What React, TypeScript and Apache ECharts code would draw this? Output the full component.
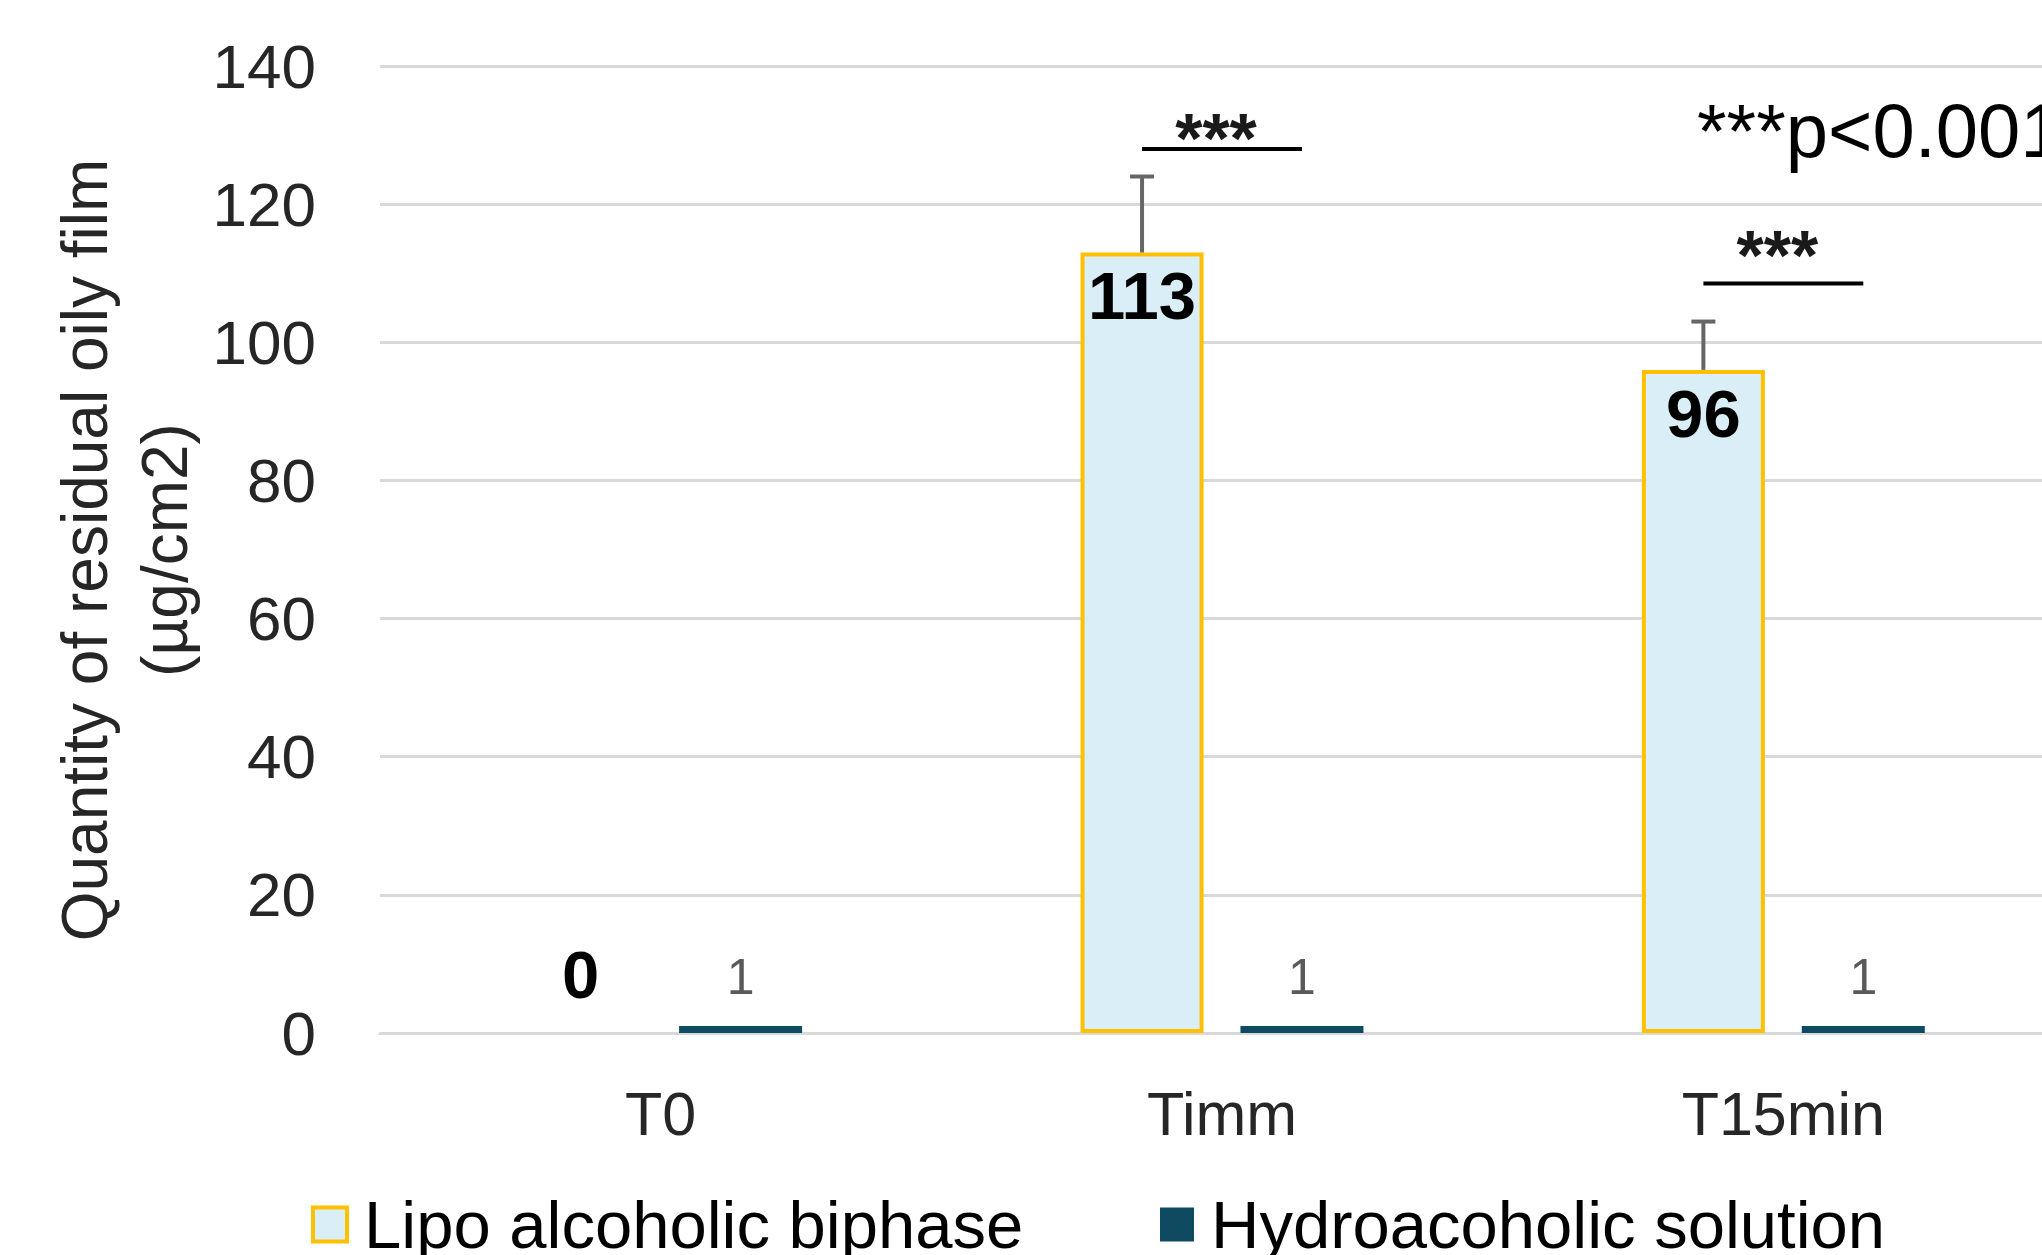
import React, { useEffect, useRef } from "react";
import * as echarts from "echarts";

const categories = ["T0", "Timm", "T15min"];
const lipoValues = [0, 113, 96];
const hydroValues = [1, 1, 1];
const lipoErrors = [0, 11, 7];
const sigLineValues = [null, 128, 108.5];
const sigStarValues = [null, 129.5, 112.5];
const yMin = 0;
const yMax = 140;
const yInterval = 20;

const FONT = "'Liberation Sans', Arial, sans-serif";
const BAR_WIDTH = 123;
const BAR_GAP_RATIO = 0.3;
const HALF_SPAN = (BAR_WIDTH * (1 + BAR_GAP_RATIO)) / 2;

export default function App() {
  const ref = useRef<HTMLDivElement>(null);
  useEffect(() => {
    document.body.style.margin = "0";
    document.body.style.overflow = "hidden";
    document.documentElement.style.overflow = "hidden";
    const chart = echarts.init(ref.current!, null, { renderer: "svg" });
    const option: any = {
      animation: false,
      backgroundColor: "#ffffff",
      textStyle: { fontFamily: FONT },
      grid: { left: 380, top: 66, right: 0, height: 967, containLabel: false },
      xAxis: {
        type: "category",
        data: categories,
        axisLine: { show: true, lineStyle: { color: "#D9D9D9", width: 3 } },
        axisTick: { show: false },
        axisLabel: { fontSize: 61, color: "#262626", margin: 50, fontFamily: FONT },
      },
      yAxis: {
        type: "value",
        min: yMin,
        max: yMax,
        interval: yInterval,
        axisLine: { show: false },
        axisTick: { show: false },
        splitLine: { lineStyle: { color: "#D9D9D9", width: 3 } },
        axisLabel: { fontSize: 62, color: "#262626", margin: 64, fontFamily: FONT },
      },
      legend: [
        {
          left: 306,
          top: 1186,
          itemWidth: 34,
          itemHeight: 34,
          textStyle: { fontSize: 67, color: "#000", fontFamily: FONT, padding: [0, 0, 0, 12] },
          data: [
            {
              name: "Lipo alcoholic biphase",
              icon: "rect",
              itemStyle: { color: "#DAEEF8", borderColor: "#FFC000", borderWidth: 4 },
            },
          ],
        },
        {
          left: 1155,
          top: 1186,
          itemWidth: 34,
          itemHeight: 34,
          textStyle: { fontSize: 67, color: "#000", fontFamily: FONT, padding: [0, 0, 0, 12] },
          data: [{ name: "Hydroacoholic solution", icon: "rect", itemStyle: { color: "#0E4A60" } }],
        },
      ],
      series: [
        {
          name: "Lipo alcoholic biphase",
          type: "bar",
          barWidth: BAR_WIDTH,
          barGap: BAR_GAP_RATIO * 100 + "%",
          itemStyle: { color: "#DAEEF8", borderColor: "#FFC000", borderWidth: 4 },
          label: {
            show: true,
            position: "insideTop",
            distance: 10,
            fontSize: 67,
            fontWeight: "bold",
            color: "#000",
            fontFamily: FONT,
          },
          data: lipoValues.map((v) =>
            v === 0
              ? { value: v, itemStyle: { borderWidth: 0 }, label: { position: "top", distance: 25 } }
              : { value: v }
          ),
        },
        {
          name: "Hydroacoholic solution",
          type: "bar",
          barWidth: BAR_WIDTH,
          itemStyle: { color: "#0E4A60" },
          label: {
            show: true,
            position: "top",
            distance: 24,
            fontSize: 50,
            color: "#595959",
            fontFamily: FONT,
          },
          data: hydroValues,
        },
        {
          type: "custom",
          name: "errors",
          z: 5,
          renderItem: (params: any, api: any) => {
            const idx = api.value(0);
            const val = api.value(1);
            const err = api.value(2);
            if (!err) return null;
            const base = api.coord([idx, val]);
            const top = api.coord([idx, val + err]);
            const x = base[0] - HALF_SPAN;
            return {
              type: "group",
              children: [
                { type: "line", shape: { x1: x, y1: base[1], x2: x, y2: top[1] }, style: { stroke: "#666666", lineWidth: 4 } },
                { type: "line", shape: { x1: x - 12, y1: top[1], x2: x + 12, y2: top[1] }, style: { stroke: "#666666", lineWidth: 4 } },
              ],
            };
          },
          data: lipoValues.map((v, i) => [i, v, lipoErrors[i]]),
        },
        {
          type: "custom",
          name: "significance",
          z: 5,
          renderItem: (params: any, api: any) => {
            const idx = api.value(0);
            const lineV = api.value(1);
            const starV = api.value(2);
            const p = api.coord([idx, lineV]);
            const s = api.coord([idx, starV]);
            return {
              type: "group",
              children: [
                {
                  type: "line",
                  shape: { x1: p[0] - HALF_SPAN, y1: p[1], x2: p[0] + HALF_SPAN, y2: p[1] },
                  style: { stroke: "#000", lineWidth: 4 },
                },
                {
                  type: "text",
                  x: s[0] - 6,
                  y: s[1],
                  style: {
                    text: "***",
                    fill: "#1a1a1a",
                    font: "bold 70px " + FONT,
                    align: "center",
                    verticalAlign: "middle",
                  },
                },
              ],
            };
          },
          data: categories
            .map((c, i) => [i, sigLineValues[i], sigStarValues[i]])
            .filter((d) => d[1] != null),
        },
      ],
      graphic: [
        {
          type: "text",
          x: 125,
          y: 550,
          rotation: Math.PI / 2,
          style: {
            text: "Quantity of residual oily film\n(µg/cm2)",
            fill: "#262626",
            font: "64px " + FONT,
            lineHeight: 80,
            align: "center",
            verticalAlign: "middle",
          },
        },
        {
          type: "text",
          x: 1697,
          y: 130,
          style: {
            text: "***p<0.001",
            fill: "#000",
            font: "76px " + FONT,
            align: "left",
            verticalAlign: "middle",
          },
        },
      ],
    };
    chart.setOption(option);
    return () => chart.dispose();
  }, []);
  return <div ref={ref} style={{ width: 2064, height: 1255 }} />;
}
